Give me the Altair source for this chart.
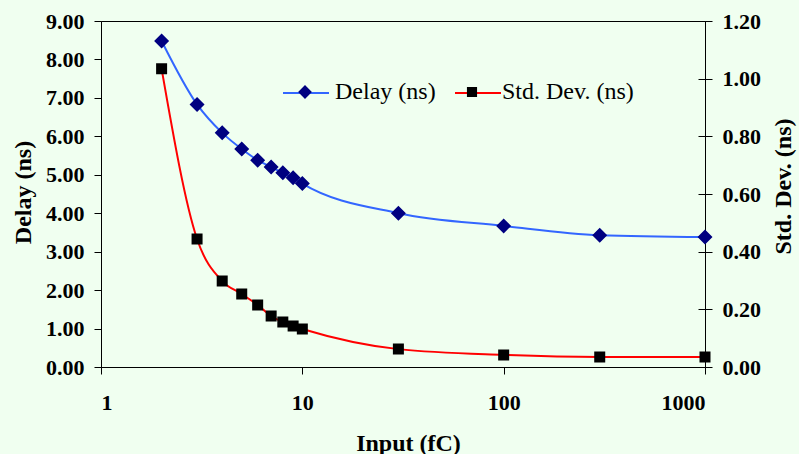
import altair as alt
import pandas as pd

# Measured timing versus injected charge
input_fc = [2, 3, 4, 5, 6, 7, 8, 9, 10, 30, 100, 300, 1000]
delay_ns = [8.48, 6.83, 6.09, 5.67, 5.38, 5.20, 5.05, 4.92, 4.77, 4.00, 3.67, 3.43, 3.38]
std_dev_ns = [1.034, 0.444, 0.298, 0.253, 0.215, 0.177, 0.156, 0.142, 0.132, 0.062, 0.042, 0.035, 0.035]

DELAY = "Delay (ns)"
STD = "Std. Dev. (ns)"

delay_df = pd.DataFrame({"input": input_fc, "value": delay_ns, "series": DELAY, "marker": DELAY})
std_df = pd.DataFrame({"input": input_fc, "value": std_dev_ns, "series": STD, "marker": STD})

# Marker shapes: a zero-area horizontal stroke keeps legend symbols as wide as the line key
DIAMOND = "M-1,0L1,0M0,-0.3L0.3,0L0,0.3L-0.3,0Z"
SQUARE = "M-1,0L1,0M-0.22,-0.22L0.22,-0.22L0.22,0.22L-0.22,0.22Z"

LINE_BLUE = "#3366FF"
LINE_RED = "#FF0000"
NAVY = "#000080"
BLACK = "#000000"

SERIF = "Liberation Serif"
LEG_X, LEG_Y = 181, 48

x_enc = alt.X(
    "input:Q",
    scale=alt.Scale(type="log", domain=[1, 1000], nice=False),
    axis=alt.Axis(
        values=[1, 10, 100, 1000], format="d", tickSize=7, labelPadding=18,
        title="Input (fC)", titleX=307, titleY=83, titleBaseline="alphabetic",
    ),
)

# Line keys only (no text); spacing puts the second key under the second marker entry
line_legend = alt.Legend(
    orient="none", legendX=LEG_X, legendY=LEG_Y, direction="horizontal", title=None,
    symbolType="stroke", symbolSize=2116, symbolStrokeWidth=2, padding=0,
    labelExpr="''", labelFont=SERIF, labelFontSize=24, labelOffset=7, columnPadding=114,
)
marker_legend = alt.Legend(
    orient="none", legendX=LEG_X, legendY=LEG_Y, direction="horizontal", title=None,
    symbolSize=2116, symbolStrokeWidth=0, padding=0,
    labelFont=SERIF, labelFontSize=24, labelFontWeight="normal", labelColor=BLACK,
    labelOffset=7, columnPadding=13,
)

color_enc = alt.Color("series:N", scale=alt.Scale(range=[LINE_BLUE, LINE_RED]), legend=line_legend)
fill_enc = alt.Fill("marker:N", scale=alt.Scale(range=[NAVY, BLACK]), legend=marker_legend)
shape_enc = alt.Shape("marker:N", scale=alt.Scale(range=[DIAMOND, SQUARE]), legend=marker_legend)

delay_y = alt.Y(
    "value:Q",
    scale=alt.Scale(domain=[0, 9], nice=False),
    axis=alt.Axis(
        orient="left", values=list(range(10)), format=".2f", tickSize=7, labelPadding=10,
        title="Delay (ns)", titleAngle=270, titleX=-78, titleY=171,
        titleBaseline="middle", titleAlign="center",
    ),
)
std_ticks = [0, 0.2, 0.4, 0.6, 0.8, 1.0, 1.2]
std_y = alt.Y(
    "value:Q",
    scale=alt.Scale(domain=[0, 1.2], nice=False),
    axis=alt.Axis(
        orient="right", values=std_ticks, format=".2f", tickSize=7, labelPadding=10,
        title="Std. Dev. (ns)", titleAngle=270, titleX=78, titleY=165,
        titleBaseline="middle", titleAlign="center",
    ),
)
# Inner half of the crossing ticks on the right-hand axis
std_inner_y = alt.Y(
    "value:Q",
    scale=alt.Scale(domain=[0, 1.2], nice=False),
    axis=alt.Axis(
        orient="left", offset=-604, values=std_ticks, labels=False, domain=False,
        tickSize=7, title=None,
    ),
)

delay_line = alt.Chart(delay_df).mark_line(interpolate="monotone", strokeWidth=2).encode(
    x=x_enc, y=delay_y, color=color_enc
)
delay_pts = alt.Chart(delay_df).mark_point(filled=True, size=2500, strokeWidth=0, opacity=1).encode(
    x=x_enc, y=delay_y, fill=fill_enc, shape=shape_enc
)
std_line = alt.Chart(std_df).mark_line(interpolate="monotone", strokeWidth=2).encode(
    x=x_enc, y=std_y, color=color_enc
)
std_pts = alt.Chart(std_df).mark_point(filled=True, size=2500, strokeWidth=0, opacity=1).encode(
    x=x_enc, y=std_y, fill=fill_enc, shape=shape_enc
)
std_inner = alt.Chart(std_df).mark_point(opacity=0).encode(x=x_enc, y=std_inner_y)

delay_layer = alt.layer(delay_line, delay_pts)
std_layer = alt.layer(std_line, std_pts)

chart = (
    alt.layer(delay_layer, std_layer, std_inner)
    .resolve_scale(y="independent")
    .properties(
        width=604, height=346,
        autosize=alt.AutoSizeParams(type="none"),
        padding={"left": 101, "top": 21, "right": 94, "bottom": 87},
        background="#F0FFF0",
    )
    .configure_view(stroke=BLACK, strokeWidth=1)
    .configure_axis(
        grid=False, domainColor=BLACK, domainWidth=1, tickColor=BLACK, tickWidth=1,
        labelFont=SERIF, labelFontWeight="bold", labelFontSize=22, labelColor=BLACK,
        titleFont=SERIF, titleFontWeight="bold", titleFontSize=24, titleColor=BLACK,
    )
)

chart.save("out.html", embed_options={"renderer": "svg", "actions": False})
